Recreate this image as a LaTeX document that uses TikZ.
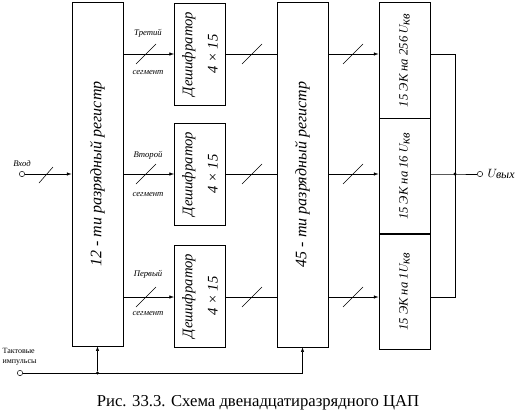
\documentclass[tikz,border=0pt]{standalone}
\usepackage{fontspec}
\setmainfont{Liberation Serif}
\usetikzlibrary{arrows.meta,positioning}

\begin{document}
\begin{tikzpicture}[x=0.75pt,y=-0.75pt,
  blk/.style={draw,thin,minimum width=38.5pt,inner sep=0pt,
              font=\itshape\fontsize{12}{14}\selectfont},
  dec/.style={blk,minimum height=76.5pt,font=\itshape\fontsize{11}{19}\selectfont},
  dac/.style={blk,font=\itshape\fontsize{9.5}{11}\selectfont},
  lbl/.style={font=\itshape\fontsize{6.5}{7}\selectfont,inner sep=1pt},
  ar/.style={-{Latex[length=3.5pt,width=2.5pt]},thin},
  ln/.style={thin},
  pin/.style={circle,draw,thin,fill=white,inner sep=0pt,minimum size=4pt},
  dot/.style={circle,fill,inner sep=0pt,minimum size=2.6pt}]
\useasboundingbox (0,0) rectangle (517,414);
% rows of the three segments
\coordinate (r3) at (0,54);
\coordinate (r2) at (0,174);
\coordinate (r1) at (0,297);
\coordinate (bus) at (455,174);
% blocks
\node[blk,minimum height=258pt] (regA) at (97.5,174)
  {\rotatebox{90}{12 - ти разрядный регистр}};
\node[dec] (dec3) at (200,54)
  {\rotatebox{90}{\begin{tabular}{@{}c@{}}Дешифратор\\4 × 15\end{tabular}}};
\node[dec] (dec2) at (200,174)
  {\rotatebox{90}{\begin{tabular}{@{}c@{}}Дешифратор\\4 × 15\end{tabular}}};
\node[dec] (dec1) at (200,296)
  {\rotatebox{90}{\begin{tabular}{@{}c@{}}Дешифратор\\4 × 15\end{tabular}}};
\node[blk,minimum height=258.75pt] (regB) at (302.5,174.5)
  {\rotatebox{90}{45 - ти разрядный регистр}};
\node[dac,minimum height=87pt] (dac3) at (404.5,60)
  {\rotatebox{90}{15 ЭК на 256 $U_\textit{кв}$}};
\node[dac,minimum height=86.25pt,below=0pt of dac3] (dac2)
  {\rotatebox{90}{15 ЭК на 16 $U_\textit{кв}$}};
\node[dac,minimum height=86.25pt,below=0pt of dac2] (dac1)
  {\rotatebox{90}{15 ЭК на 1$U_\textit{кв}$}};
% input and clock
\node[pin] (in) at (22,174) {};
\node[lbl,above=2pt of in] (inlbl) {Вход};
\node[pin] (clk) at (20,373) {};
\node[lbl,font=\fontsize{6}{7.5}\selectfont,align=left,anchor=south west]
  (clklbl) at (1,367) {Тактовые\\импульсы};
\coordinate (clkB) at (302.5,373);
\node[dot] (clkA) at (97.5,373) {};
\node[pin] (out) at (480,174) {};
\node[font=\itshape\fontsize{9}{10}\selectfont,right=0pt of out] (outlbl)
  {$U_\textit{вых}$};
% connectors
\draw[ar] (in) -- (regA.west |- r2);
\draw[ar] (regA.east |- r3) -- (dec3.west);
\draw[ar] (regA.east |- r2) -- (dec2.west);
\draw[ar] (regA.east |- r1) -- (dec1.west |- r1);
\draw[ln] (dec3.east |- r3) -- (regB.west |- r3);
\draw[ln] (dec2.east |- r2) -- (regB.west |- r2);
\draw[ln] (dec1.east |- r1) -- (regB.west |- r1);
\draw[ar] (regB.east |- r3) -- (dac3.west |- r3);
\draw[ar] (regB.east |- r2) -- (dac2.west |- r2);
\draw[ar] (regB.east |- r1) -- (dac1.west |- r1);
\draw[ln] (dac3.east |- r3) -- (bus |- r3) -- (bus |- r1) -- (dac1.east |- r1);
\draw[ln] (dac2.east |- r2) -- (bus) -- (out);
\node[dot] at (bus) {};
\draw[ln] (clk) -- (clkB);
\draw[ar] (clkA) -- (regA.south);
\draw[ar] (clkB) -- (regB.south);
% segment labels
\node[lbl] (t3) at (148,33) {Третий};
\node[lbl] (s3) at (148,72) {сегмент};
\node[lbl] (t2) at (148,155) {Второй};
\node[lbl] (s2) at (148,194) {сегмент};
\node[lbl] (t1) at (148,274) {Первый};
\node[lbl] (s1) at (148,313) {сегмент};
% bus width marks
\foreach \x in {146,252,353}
  \foreach \y in {54,174,297}
    \draw[ln] (\x-10,\y+10) -- (\x+10,\y-10);
\draw[ln] (39,183) -- (53,167);
% caption
\node[font=\fontsize{12.5}{14}\selectfont] (cap) at (258,403)
  {Рис. 33.3. Схема двенадцатиразрядного ЦАП};
\end{tikzpicture}
\end{document}
